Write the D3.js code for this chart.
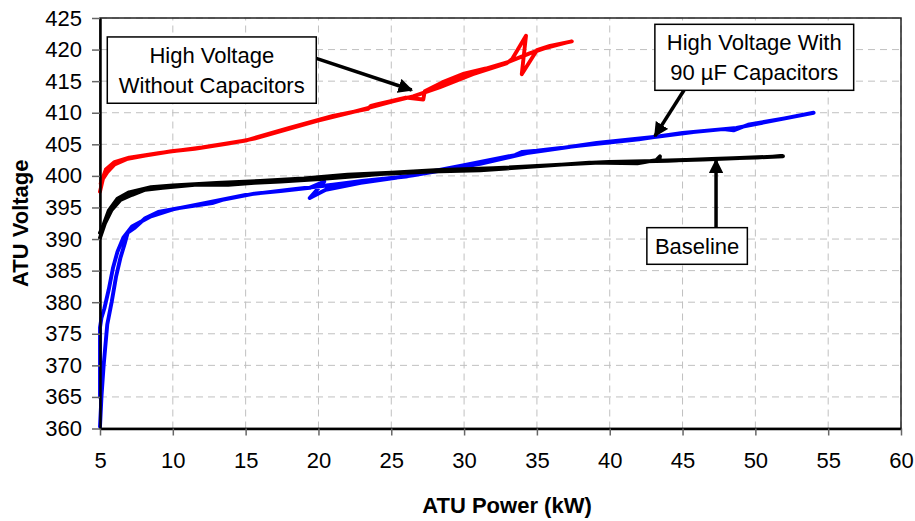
<!DOCTYPE html>
<html>
<head>
<meta charset="utf-8">
<script src="https://cdn.jsdelivr.net/npm/d3@7/dist/d3.min.js"></script>
<style>
  html, body { margin: 0; padding: 0; background: #fff; }
  svg { display: block; font-family: "Liberation Sans", Arial, sans-serif; }
</style>
</head>
<body>
<svg id="chart" width="915" height="521"></svg>
<script>
// ---- data ----
const xTicks = [5, 10, 15, 20, 25, 30, 35, 40, 45, 50, 55, 60];
const yTicks = [360, 365, 370, 375, 380, 385, 390, 395, 400, 405, 410, 415, 420, 425];

// High Voltage Without Capacitors (up sweep then return sweep)
const redPower   = [5.0, 5.2, 5.5, 6.0, 6.9, 8.1, 9.9, 11.5, 13.8, 15.6, 17.6, 19.9, 22.2, 23.5, 25.1, 26.5, 28.3, 30.6, 32.9, 33.3, 34.25, 33.96, 35.0, 35.9, 37.4,
                    37.0, 35.5, 34.5, 33.0, 31.5, 30.0, 28.5, 27.3, 27.2, 26.0, 24.0, 23.6, 23.4, 21.0, 18.0, 15.0, 12.0, 9.0, 7.0, 6.0, 5.4, 5.05];
const redVoltage = [397.5, 399.5, 400.6, 401.8, 402.7, 403.2, 403.9, 404.3, 405.1, 405.9, 407.2, 408.7, 410.0, 410.8, 411.8, 412.6, 414.0, 416.1, 417.8, 418.5, 422.2, 416.1, 419.9, 420.6, 421.3,
                    421.1, 420.2, 419.4, 418.0, 417.0, 416.2, 414.8, 413.4, 412.1, 412.4, 411.3, 411.1, 410.6, 409.5, 407.6, 405.6, 404.5, 403.6, 402.9, 402.2, 401.0, 398.8];

// High Voltage With 90 µF Capacitors
const bluePower   = [5.0, 5.1, 5.25, 5.5, 5.8, 6.1, 6.4, 6.7, 6.9, 7.4, 8.1, 9.0, 10.4, 12.7, 13.4, 15.6, 17.4, 19.4, 20.4, 19.4, 20.5, 22.9, 26.5, 31.1, 34.3, 39.1, 43.2, 46.0, 48.7, 54.0,
                     52.0, 49.5, 48.5, 47.8, 45.0, 42.0, 38.0, 35.0, 34.0, 33.5, 30.0, 26.0, 23.0, 21.0, 18.0, 15.0, 12.0, 10.0, 8.5, 7.2, 6.6, 6.2, 5.9, 5.6, 5.3, 5.1, 5.0, 5.0, 5.0];
const blueVoltage = [360.3, 365.0, 370.0, 376.5, 380.0, 384.0, 387.0, 389.3, 391.0, 391.8, 393.3, 394.3, 394.9, 395.7, 396.2, 397.2, 397.6, 398.1, 399.1, 396.5, 397.8, 398.9, 400.1, 401.9, 403.6, 405.2, 406.2, 407.0, 407.6, 410.0,
                     409.1, 408.1, 407.2, 407.4, 406.8, 405.8, 404.8, 404.0, 403.8, 403.3, 401.7, 399.9, 399.2, 398.6, 397.8, 397.0, 395.6, 394.7, 393.6, 392.0, 390.2, 388.0, 385.5, 382.0, 379.0, 377.5, 376.0, 370.0, 365.0];

// Baseline
const blackPower   = [5.0, 5.34, 5.8, 6.4, 7.2, 8.1, 9.3, 11.5, 13.8, 15.6, 17.4, 20.1, 22.9, 24.2, 27.7, 31.1, 35.0, 38.6, 41.9, 43.2, 43.45, 43.4, 46.4, 51.9,
                      50.0, 47.0, 44.0, 40.0, 36.0, 32.0, 28.0, 25.0, 22.0, 19.0, 16.0, 13.0, 10.0, 8.5, 7.0, 6.2, 5.6, 5.2, 5.0];
const blackVoltage = [390.2, 392.5, 394.6, 396.2, 397.0, 397.8, 398.1, 398.6, 398.6, 398.9, 399.1, 399.5, 400.0, 400.3, 400.7, 400.9, 401.5, 402.1, 402.0, 402.5, 403.1, 402.4, 402.6, 403.1,
                      402.9, 402.7, 402.4, 402.2, 401.7, 401.2, 400.9, 400.5, 400.2, 399.6, 399.2, 398.9, 398.5, 398.2, 397.4, 396.4, 394.5, 392.0, 391.0];

const seriesNames  = ["High Voltage Without Capacitors", "High Voltage With 90 µF Capacitors", "Baseline"];
const seriesColors = ["#ff0000", "#0000ff", "#000000"];

// annotations: label lines, box corners and arrow (in data units)
const annoLines = [["High Voltage", "Without Capacitors"], ["High Voltage With", "90 µF Capacitors"], ["Baseline"]];
const annoBoxX  = [[5.5, 19.85], [43.1, 56.75], [42.55, 49.45]];
const annoBoxY  = [[422.0, 411.5], [424.0, 413.55], [391.8, 386.0]];
const arrowFrom = [[19.85, 418.6], [45.1, 413.55], [47.3, 391.8]];
const arrowTo   = [[26.4, 413.6], [43.1, 406.3], [47.3, 402.5]];

// ---- drawing ----
const svg = d3.select("#chart");
const x = d3.scaleLinear().domain([5, 60]).range([100, 901]);
const y = d3.scaleLinear().domain([360, 425]).range([428.5, 18]);
const FONT = 22;

// grid
const grid = svg.append("g").attr("stroke", "#c0c0c0").attr("stroke-width", 1).attr("stroke-dasharray", "7,5");
grid.selectAll("line.h").data(yTicks.slice(1)).join("line").attr("class", "h")
  .attr("x1", x(5)).attr("x2", x(60)).attr("y1", d => y(d)).attr("y2", d => y(d));
grid.selectAll("line.v").data(xTicks.slice(1)).join("line").attr("class", "v")
  .attr("y1", y(360)).attr("y2", y(425)).attr("x1", d => x(d)).attr("x2", d => x(d));

// plot border
svg.append("rect").attr("x", x(5)).attr("y", y(425)).attr("width", x(60) - x(5)).attr("height", y(360) - y(425))
  .attr("fill", "none").attr("stroke", "#222").attr("stroke-width", 1.5);

// series
const line = d3.line().x(d => x(d[0])).y(d => y(d[1]));
const series = [[redPower, redVoltage], [bluePower, blueVoltage], [blackPower, blackVoltage]];
series.forEach((s, i) => {
  const pts = s[0].map((p, k) => [p, s[1][k]]);
  svg.append("path").datum(pts).attr("d", line)
    .attr("fill", "none").attr("stroke", seriesColors[i]).attr("stroke-width", 3.9)
    .attr("stroke-linejoin", "round").attr("stroke-linecap", "round")
    .append("title").text(seriesNames[i]);
});

// axes
const yAxis = svg.append("g").attr("transform", `translate(${x(5)},0)`)
  .call(d3.axisLeft(y).tickValues(yTicks).tickSize(8).tickPadding(10).tickSizeOuter(0));
const xAxis = svg.append("g").attr("transform", `translate(0,${y(360)})`)
  .call(d3.axisBottom(x).tickValues(xTicks).tickSize(7).tickPadding(17).tickSizeOuter(0));
[yAxis, xAxis].forEach(g => {
  g.select(".domain").attr("stroke", "#000").attr("stroke-width", 2.5);
  g.selectAll(".tick line").attr("stroke", "#666").attr("stroke-width", 1.5);
  g.selectAll(".tick text").attr("fill", "#000").attr("font-size", FONT)
    .attr("font-family", "'Liberation Sans', Arial, sans-serif");
});

// axis titles
svg.append("text").attr("x", 507).attr("y", 513).attr("text-anchor", "middle")
  .attr("font-size", FONT).attr("font-weight", "bold").text("ATU Power (kW)");
svg.append("text").attr("transform", `translate(28,${(y(360) + y(425)) / 2}) rotate(-90)`)
  .attr("text-anchor", "middle").attr("font-size", FONT).attr("font-weight", "bold").text("ATU Voltage");

// annotations
const defs = svg.append("defs");
defs.append("marker").attr("id", "ah").attr("viewBox", "0 0 10 10").attr("refX", 9).attr("refY", 5)
  .attr("markerWidth", 4.2).attr("markerHeight", 4.2).attr("markerUnits", "strokeWidth").attr("orient", "auto")
  .append("path").attr("d", "M0,0 L10,5 L0,10 Z").attr("fill", "#000");

annoLines.forEach((lines, i) => {
  const x0 = x(annoBoxX[i][0]), x1 = x(annoBoxX[i][1]);
  const y0 = y(annoBoxY[i][0]), y1 = y(annoBoxY[i][1]);
  svg.append("line")
    .attr("x1", x(arrowFrom[i][0])).attr("y1", y(arrowFrom[i][1]))
    .attr("x2", x(arrowTo[i][0])).attr("y2", y(arrowTo[i][1]))
    .attr("stroke", "#000").attr("stroke-width", 3.5).attr("marker-end", "url(#ah)");
  svg.append("rect").attr("x", x0).attr("y", y0).attr("width", x1 - x0).attr("height", y1 - y0)
    .attr("fill", "#fff").attr("stroke", "#000").attr("stroke-width", 1.5);
  const cx = (x0 + x1) / 2, cy = (y0 + y1) / 2;
  const lh = 30;
  lines.forEach((t, k) => {
    svg.append("text").attr("x", cx).attr("y", cy + (k - (lines.length - 1) / 2) * lh + 8)
      .attr("text-anchor", "middle").attr("font-size", FONT).attr("fill", "#000").text(t);
  });
});
</script>
</body>
</html>
